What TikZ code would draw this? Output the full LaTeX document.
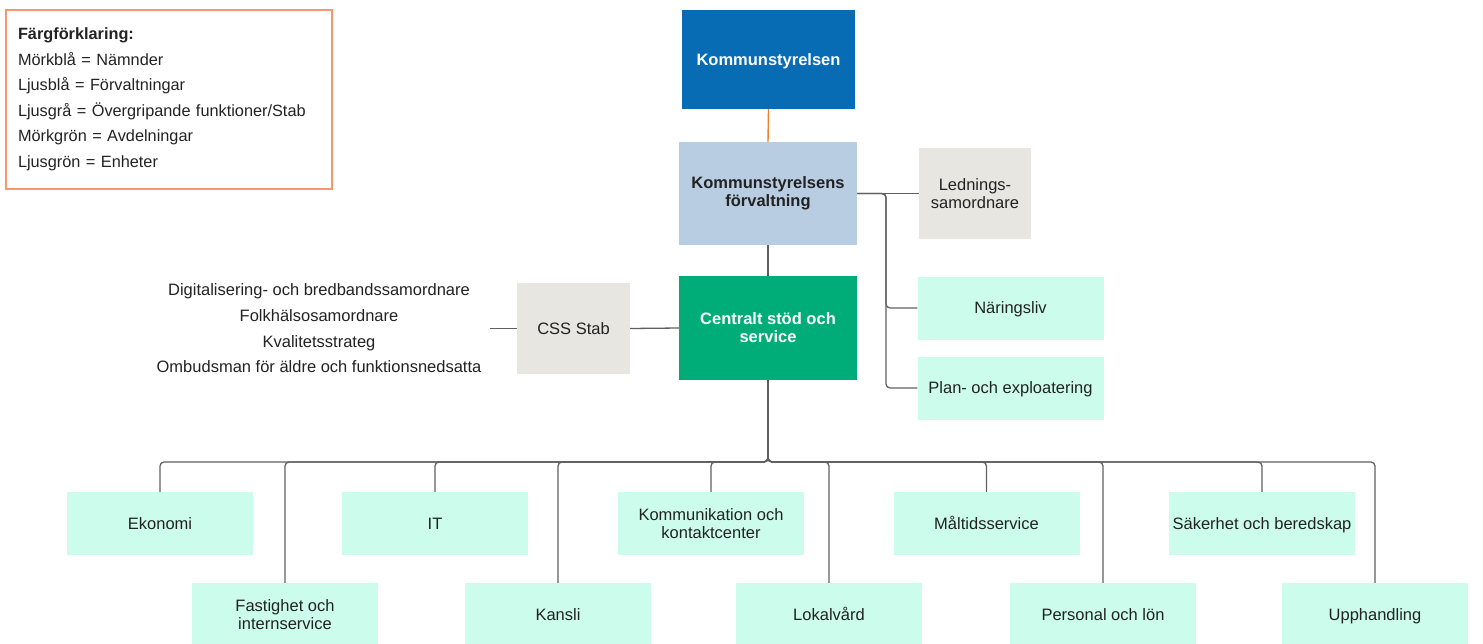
\documentclass[tikz,border=0pt]{standalone}
\usepackage{fontspec}
\setmainfont{Liberation Sans}
\usetikzlibrary{calc}
\definecolor{nblue}{RGB}{8,108,180}
\definecolor{fblue}{RGB}{184,204,226}
\definecolor{stabgray}{RGB}{232,230,225}
\definecolor{avdgreen}{RGB}{0,173,120}
\definecolor{unitmint}{RGB}{204,253,236}
\definecolor{legorange}{RGB}{248,150,110}
\definecolor{linkorange}{RGB}{240,128,48}
\definecolor{conngray}{RGB}{96,96,96}
\definecolor{txt}{RGB}{34,34,34}
\begin{document}
\begin{tikzpicture}[x=1pt,y=-1pt,
  font=\fontsize{16.5}{18}\selectfont, text=txt,
  base/.style={rectangle, draw=none, align=center, inner sep=2pt},
  oneline/.style={text height=11.8pt, text depth=0pt},
  nbox/.style={base, fill=nblue, text=white, font=\fontsize{16.5}{18}\selectfont\bfseries},
  fbox/.style={base, fill=fblue, font=\fontsize{16.5}{18}\selectfont\bfseries},
  stabbox/.style={base, fill=stabgray},
  avdbox/.style={base, fill=avdgreen, text=white, font=\fontsize{16.5}{18}\selectfont\bfseries},
  unitbox/.style={base, fill=unitmint, minimum width=186, minimum height=63},
  conn/.style={draw=conngray, line width=1.3pt, rounded corners=4pt},
  toplink/.style={draw=linkorange, line width=1.4pt}
]
\useasboundingbox (0,0) rectangle (1483,643);

% legend
\node[draw=legorange, line width=1.3pt, minimum width=326, minimum height=179,
      text width=302, inner xsep=12pt, align=left,
      font=\fontsize{16.3}{25.5}\selectfont] (legend) at (169,99.5)
  {\textbf{Färgförklaring:}\\
   Mörkblå = Nämnder\\
   Ljusblå = Förvaltningar\\
   Ljusgrå = Övergripande funktioner/Stab\\
   Mörkgrön = Avdelningar\\
   Ljusgrön = Enheter};

% upper structure
\node[nbox, oneline, minimum width=173, minimum height=99] (ks) at (768.5,59.5) {Kommunstyrelsen};
\node[fbox, minimum width=178, minimum height=103] (kf) at (768,193.5) {Kommunstyrelsens\\förvaltning};
\node[stabbox, minimum width=112, minimum height=91] (led) at (975,193.5) {Lednings-\\samordnare};
\node[avdbox, minimum width=178, minimum height=104] (cs) at (768,328) {Centralt stöd och\\service};
\node[unitbox, oneline] (nar) at (1010.5,308) {Näringsliv};
\node[unitbox, oneline] (plan) at (1010.5,388) {Plan- och exploatering};
\node[stabbox, oneline, minimum width=113, minimum height=91] (stab) at (573.5,328.5) {CSS Stab};
\node[align=center, inner xsep=8pt, inner ysep=0pt, font=\fontsize{16.5}{25.7}\selectfont] (list) at (319,328.5)
  {Digitalisering- och bredbandssamordnare\\
   Folkhälsosamordnare\\
   Kvalitetsstrateg\\
   Ombudsman för äldre och funktionsnedsatta};

% lower units
\node[unitbox, oneline] (eko) at (160,523.5) {Ekonomi};
\node[unitbox, oneline] (it) at (435,523.5) {IT};
\node[unitbox] (kom) at (711,523.5) {Kommunikation och\\kontaktcenter};
\node[unitbox, oneline] (mal) at (986.5,523.5) {Måltidsservice};
\node[unitbox, oneline] (sak) at (1262,523.5) {Säkerhet och beredskap};
\node[unitbox] (fast) at (285,614.5) {Fastighet och\\internservice};
\node[unitbox, oneline] (kan) at (558,614.5) {Kansli};
\node[unitbox, oneline] (lok) at (829,614.5) {Lokalvård};
\node[unitbox, oneline] (per) at (1103,614.5) {Personal och lön};
\node[unitbox, oneline] (upp) at (1375,614.5) {Upphandling};

% connectors
\draw[toplink] (ks.south) -- (kf.north);
\draw[conn] (kf.south) -- (cs.north);
\draw[conn] (kf.east) -- (led.west);
\coordinate (br) at (886,193.5);
\draw[conn] (kf.east) -- (br) |- (nar.west);
\draw[conn] (kf.east) -- (br) |- (plan.west);
\draw[conn] (stab.east) -- (cs.west);
\draw[conn] (list.east) -- (stab.west);

\coordinate (bus) at (768,462);
\foreach \n in {eko,it,kom,mal,sak,fast,kan,lok,per,upp}{
  \draw[conn] (cs.south) -- (bus) -| (\n.north);
}
\end{tikzpicture}
\end{document}
